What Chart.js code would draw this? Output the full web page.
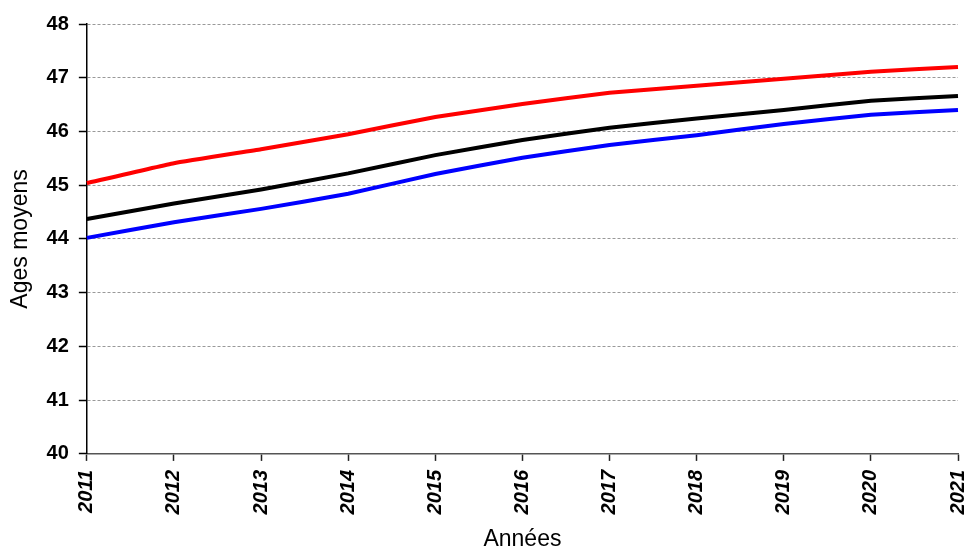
<!DOCTYPE html>
<html><head><meta charset="utf-8">
<script src="https://cdn.jsdelivr.net/npm/chart.js@4/dist/chart.umd.min.js"></script>
<style>html,body{margin:0;padding:0;background:#fff}#wrap{width:965px;height:553px}</style>
</head><body><div id="wrap"><canvas id="c" width="965" height="553"></canvas></div>
<script>
const years = ["2011","2012","2013","2014","2015","2016","2017","2018","2019","2020","2021"];
const redSeries   = [45.04,45.41,45.67,45.95,46.27,46.51,46.72,46.85,46.98,47.11,47.20];
const blackSeries = [44.37,44.66,44.92,45.22,45.56,45.84,46.07,46.24,46.40,46.57,46.66];
const blueSeries  = [44.02,44.31,44.56,44.84,45.21,45.51,45.75,45.93,46.14,46.31,46.40];
const yMin = 40, yMax = 48, yStep = 1;

const mk = (data, color) => ({data, borderColor: color, backgroundColor: color, borderWidth: 4, pointRadius: 0, tension: 0.1, fill: false});
new Chart(document.getElementById('c'), {
  type: 'line',
  data: {labels: years, datasets: [mk(redSeries,'#ff0000'), mk(blackSeries,'#000000'), mk(blueSeries,'#0000ff')]},
  options: {
    responsive: false, animation: false,
    layout: {padding: {top: 24, right: 7, left: 7, bottom: 0}},
    plugins: {legend: {display: false}, tooltip: {enabled: false}},
    scales: {
      x: {
        offset: false,
        afterFit: (s) => { s.paddingRight = 0; },
        grid: {drawOnChartArea: false, drawTicks: true, tickLength: 7, tickColor: '#222', tickWidth: 1.5, tickBorderDash: []},
        border: {color: '#555', width: 1.5},
        ticks: {minRotation: 90, maxRotation: 90, padding: 9, color: '#000', font: {family: 'Liberation Sans', size: 20, weight: 'bold', style: 'italic'}},
        title: {display: true, text: 'Années', color: '#000', padding: {top: 2, bottom: 0}, font: {family: 'Liberation Sans', size: 23}}
      },
      y: {
        min: yMin, max: yMax,
        grid: {color: '#999', lineWidth: 1, tickLength: 8, tickColor: '#000', tickWidth: 1.5, tickBorderDash: []},
        border: {color: '#000', width: 1.5, dash: [3, 2]},
        ticks: {stepSize: yStep, padding: 10, color: '#000', font: {family: 'Liberation Sans', size: 20, weight: 'bold'}},
        title: {display: true, text: 'Ages moyens', color: '#000', padding: {top: 0, bottom: 2}, font: {family: 'Liberation Sans', size: 23}}
      }
    }
  }
});
</script></body></html>
